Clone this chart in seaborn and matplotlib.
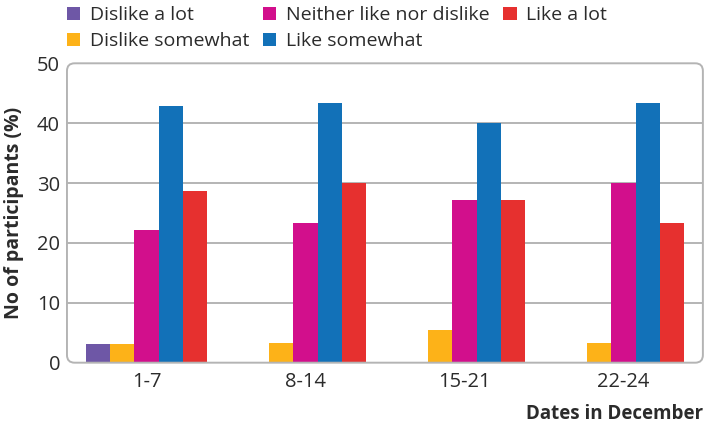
import matplotlib
matplotlib.use("Agg")
import matplotlib.pyplot as plt
from matplotlib.patches import FancyBboxPatch
import seaborn as sns
import pandas as pd

dates = ["1-7", "8-14", "15-21", "22-24"]
responses = ["Dislike a lot", "Dislike somewhat", "Neither like nor dislike",
             "Like somewhat", "Like a lot"]
dislike_a_lot = [3.2, 0, 0, 0]
dislike_somewhat = [3.2, 3.3, 5.4, 3.3]
neither = [22.2, 23.3, 27.2, 30.0]
like_somewhat = [42.9, 43.3, 40.0, 43.3]
like_a_lot = [28.6, 30.0, 27.2, 23.3]
colors = ["#6E57A6", "#FDB218", "#D20F8C", "#1271B8", "#E6302F"]

series = [dislike_a_lot, dislike_somewhat, neither, like_somewhat, like_a_lot]
rows = []
for resp, vals in zip(responses, series):
    for d, v in zip(dates, vals):
        rows.append({"Dates": d, "Response": resp, "Value": v})
df = pd.DataFrame(rows)

sns.set_theme(style="white")
plt.rcParams["font.family"] = ["Open Sans", "DejaVu Sans"]

fig = plt.figure(figsize=(7.05, 4.24), dpi=100)
ax = fig.add_axes([0.095, 0.1446, 0.902, 0.7061])

sns.barplot(data=df, x="Dates", y="Value", hue="Response", order=dates,
            hue_order=responses, palette=colors, saturation=1, width=0.765,
            ax=ax, errorbar=None, linewidth=0)

ax.set_xlim(-0.5, 3.5)
ax.set_ylim(0, 50)
ax.set_yticks([0, 10, 20, 30, 40, 50])
for s in ax.spines.values():
    s.set_visible(False)
ax.yaxis.grid(True, color="#b4b4b4", linewidth=1.4)
ax.set_axisbelow(True)
gl = ax.get_ygridlines()
gl[0].set_visible(False)
gl[-1].set_visible(False)

w_px, h_px = 0.902 * 705, 0.7061 * 424
box = FancyBboxPatch((0, 0), 1, 1, boxstyle="round,pad=0,rounding_size=0.012",
                     transform=ax.transAxes, fill=False, edgecolor="#b4b4b4",
                     linewidth=1.4, clip_on=False, mutation_aspect=w_px / h_px,
                     zorder=5)
ax.add_patch(box)

ax.tick_params(axis="both", length=0, labelsize=14.5, colors="#2b2b2b")
ax.tick_params(axis="y", pad=5)
ax.tick_params(axis="x", pad=7)
ax.set_ylabel("No of participants (%)", fontsize=14, fontweight="bold",
              color="#2b2b2b", labelpad=9)
ax.set_xlabel("Dates in December", fontsize=13.5, fontweight="bold",
              color="#2b2b2b", loc="right", labelpad=8)

sns.move_legend(ax, "upper left", bbox_to_anchor=(0.095, 0.985),
                bbox_transform=fig.transFigure, ncol=3, frameon=False,
                title=None, fontsize=14, handlelength=0.67, handleheight=0.67,
                handletextpad=0.5, columnspacing=0.72, labelspacing=0.4,
                borderaxespad=0, borderpad=0.0)
for t in ax.get_legend().get_texts():
    t.set_color("#2b2b2b")

fig.savefig("out.png", dpi=100)
